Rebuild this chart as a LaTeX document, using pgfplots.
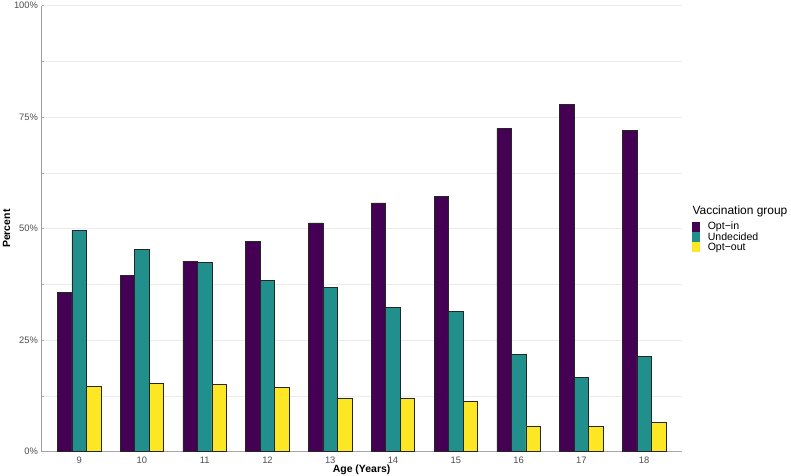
\documentclass[border=0pt]{standalone}
\usepackage{pgfplots}
\pgfplotsset{compat=1.18}
\usepackage{fontspec}
\setmainfont{Liberation Sans}
\definecolor{optin}{HTML}{440154}
\definecolor{undec}{HTML}{21908C}
\definecolor{optout}{HTML}{FDE725}
\definecolor{gridc}{HTML}{EBEBEB}
\definecolor{tickc}{HTML}{4D4D4D}
\begin{document}
\begin{tikzpicture}[x=1bp,y=1bp]
\path[use as bounding box] (0,0) rectangle (791,476);
\begin{axis}[
  at={(41.5bp,24.3bp)}, anchor=south west,
  scale only axis, width=640.2bp, height=446bp,
  xmin=0.4, xmax=10.6, ymin=0, ymax=100,
  xtick={1,...,10},
  xticklabels={9,10,11,12,13,14,15,16,17,18},
  ytick={0,25,50,75,100},
  yticklabels={0\%,25\%,50\%,75\%,100\%},
  minor ytick={12.5,37.5,62.5,87.5},
  ymajorgrids, yminorgrids,
  major grid style={gridc, line width=0.7bp},
  minor grid style={gridc, line width=0.4bp},
  axis x line*=bottom, axis y line*=left,
  x axis line style={draw=gray!70, line width=1.3bp, -},
  y axis line style={draw=gray!75, line width=0.7bp, -},
  xtick style={draw=none},
  ytick style={draw=gray!70, line width=0.5bp},
  major tick length=2.5bp,
  tick label style={font=\fontsize{9.4}{10}\selectfont, text=tickc},
  xticklabel style={yshift=1bp},
  xlabel={\bfseries Age (Years)},
  ylabel={\bfseries Percent},
  label style={font=\fontsize{10.5}{12}\selectfont\bfseries},
  xlabel style={yshift=5bp},
  ylabel style={yshift=-3bp},
  ybar=0pt, bar width=14.5bp,
  clip=false,
  legend cell align=left,
  legend style={draw=none, fill=none, at={(rel axis cs:1.0157,0.5157)}, anchor=north west,
    row sep=0pt, column sep=0pt, inner sep=0pt, outer sep=0pt,
    nodes={inner sep=0pt, outer sep=0pt, font=\fontsize{10.6}{10}\selectfont, minimum height=10.2bp, anchor=west}},
  legend image code/.code={\fill[#1,draw=none] (0bp,-5.1bp) rectangle (8.2bp,5.1bp); \path[draw=none,fill=none] (0bp,0bp) -- (16bp,0bp);},
]
\addplot[fill=optin, draw=black!85, line width=0.5bp] coordinates {
(1,35.7) (2,39.5) (3,42.7) (4,47.2) (5,51.3) (6,55.8) (7,57.3) (8,72.5) (9,77.9) (10,72.1)};
\addplot[fill=undec, draw=black!85, line width=0.5bp] coordinates {
(1,49.6) (2,45.4) (3,42.4) (4,38.4) (5,36.9) (6,32.4) (7,31.5) (8,21.8) (9,16.7) (10,21.4)};
\addplot[fill=optout, draw=black!85, line width=0.5bp] coordinates {
(1,14.7) (2,15.3) (3,15.1) (4,14.4) (5,11.9) (6,11.9) (7,11.3) (8,5.8) (9,5.6) (10,6.5)};
\legend{Opt{\char"2212}in,Undecided,Opt{\char"2212}out}
\node[anchor=base west, font=\fontsize{12}{12}\selectfont, inner sep=0pt] at (rel axis cs:1.0166,0.532) {Vaccination group};
\end{axis}
\end{tikzpicture}
\end{document}
